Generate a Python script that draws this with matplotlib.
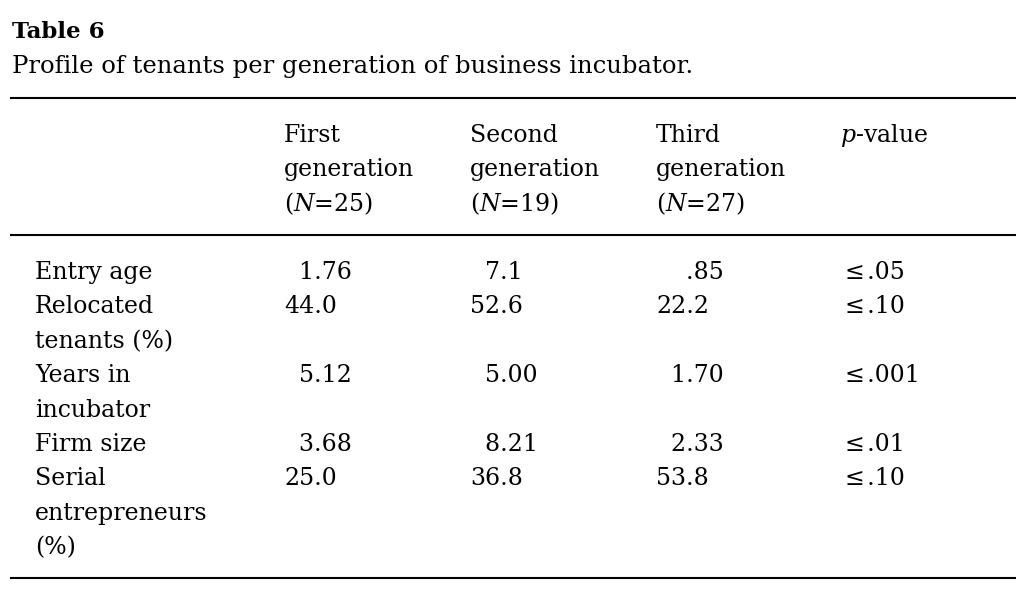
import matplotlib
matplotlib.use("Agg")
import matplotlib.pyplot as plt

plt.rcParams["font.family"] = ["DejaVu Serif"]
plt.rcParams["mathtext.fontset"] = "dejavuserif"

TITLE = "Table 6"
CAPTION = "Profile of tenants per generation of business incubator."

col_headers = [
    ["First", "generation", "($N$=25)"],
    ["Second", "generation", "($N$=19)"],
    ["Third", "generation", "($N$=27)"],
    ["$p$-value"],
]
row_labels = ["Entry age", "Relocated\ntenants (%)", "Years in\nincubator",
              "Firm size", "Serial\nentrepreneurs\n(%)"]
first_gen = ["1.76", "44.0", "5.12", "3.68", "25.0"]
second_gen = ["7.1", "52.6", "5.00", "8.21", "36.8"]
third_gen = [".85", "22.2", "1.70", "2.33", "53.8"]
p_values = ["≤.05", "≤.10", "≤.001", "≤.01", "≤.10"]

FS = 17
W, H = 1024, 592
LINE = 34.4
LABEL_X = 35
COL_X = [284, 470, 656, 845]
HEAD_X = [284, 470, 656, 840]
HEAD_Y0 = 142
BODY_Y0 = 279


def pad(s):
    """左对齐, 用数字宽度空格补齐整数位"""
    n_int = len(s.split(".")[0])
    return "\u2007" * max(0, 2 - n_int) + s


fig = plt.figure(figsize=(W / 100, H / 100), dpi=100)
ax = fig.add_axes([0, 0, 1, 1])
ax.set_xlim(0, W)
ax.set_ylim(H, 0)
ax.axis("off")

ax.text(12, 38, TITLE, fontsize=16.5, fontweight="bold", va="baseline")
ax.text(12, 73, CAPTION, fontsize=17.5, va="baseline")

for y in (98, 235, 578):
    ax.plot([10, 1016], [y, y], color="black", lw=1.5, solid_capstyle="butt")

# 表头
for x, lines in zip(HEAD_X, col_headers):
    for i, t in enumerate(lines):
        ax.text(x, HEAD_Y0 + i * LINE, t, fontsize=FS, va="baseline")

# 表体
line_idx = 0
for r, label in enumerate(row_labels):
    y0 = BODY_Y0 + line_idx * LINE
    for i, t in enumerate(label.split("\n")):
        ax.text(LABEL_X, y0 + i * LINE, t, fontsize=FS, va="baseline")
    for x, col in zip(COL_X[:3], (first_gen, second_gen, third_gen)):
        ax.text(x, y0, pad(col[r]), fontsize=FS, va="baseline")
    ax.text(COL_X[3], y0, p_values[r].replace("≤", "≤\u200a"), fontsize=FS, va="baseline")
    line_idx += label.count("\n") + 1

fig.savefig("out.png", dpi=100, facecolor="white")
